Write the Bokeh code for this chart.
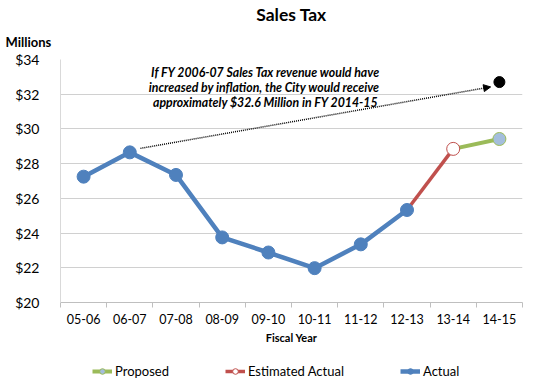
from bokeh.plotting import figure
from bokeh.layouts import column
from bokeh.models import (Range1d, FixedTicker, Label, Arrow, NormalHead,
                          Legend, LegendItem, Title)
from bokeh.embed import file_html
from bokeh.resources import INLINE

# ---- data ----
years = ["05-06", "06-07", "07-08", "08-09", "09-10",
         "10-11", "11-12", "12-13", "13-14", "14-15"]
actual_years = years[:8]
actual = [27.25, 28.65, 27.35, 23.75, 22.88, 21.98, 23.35, 25.33]
est_years = ["12-13", "13-14"]
estimated = [25.33, 28.85]
prop_years = ["13-14", "14-15"]
proposed = [28.85, 29.42]
infl_year = ["14-15"]
inflation = [32.7]
yticks = [20, 22, 24, 26, 28, 30, 32, 34]
note_lines = ["If FY 2006-07 Sales Tax revenue would have",
              "increased by inflation,  the City would receive",
              "approximately $32.6 Million in FY 2014-15"]
series_names = ["Proposed", "Estimated Actual", "Actual"]

FONT = "Lato"
BLUE, RED, GREEN = "#4F81BD", "#C0504D", "#9BBB59"

def pos(labels):
    return [years.index(l) + 0.5 for l in labels]

p = figure(width=536, height=352, output_backend="svg", toolbar_location=None,
           title=None,
           x_range=Range1d(0, len(years)), y_range=Range1d(20, 34),
           min_border_left=60, min_border_right=14, min_border_top=59,
           min_border_bottom=50)
p.outline_line_color = None

# titles (first added sits closest to the frame)
p.add_layout(Title(text="Millions", align="left", offset=-55, standoff=19,
                   text_font=FONT, text_font_style="bold",
                   text_font_size="13px", text_color="black"), "above")
p.add_layout(Title(text="Sales Tax", align="center", offset=-25, standoff=-4,
                   text_font=FONT, text_font_style="bold",
                   text_font_size="17.5px", text_color="black"), "above")

# axes
p.xaxis.ticker = FixedTicker(ticks=[i + 0.5 for i in range(len(years))],
                             minor_ticks=list(range(len(years) + 1)))
p.xaxis.major_label_overrides = {i + 0.5: y for i, y in enumerate(years)}
p.xaxis.major_tick_line_color = None
p.xaxis.minor_tick_line_color = "#bfbfbf"
p.xaxis.minor_tick_out = 5
p.xaxis.minor_tick_in = 0
p.xaxis.axis_line_color = "#bfbfbf"
p.xaxis.major_label_text_font = FONT
p.xaxis.major_label_text_font_size = "12.5px"
p.xaxis.major_label_text_color = "black"
p.xaxis.major_label_standoff = 5
p.xaxis.axis_label = "Fiscal Year"
p.xaxis.axis_label_text_font = FONT
p.xaxis.axis_label_text_font_style = "bold"
p.xaxis.axis_label_text_font_size = "11px"
p.xaxis.axis_label_text_color = "black"
p.xaxis.axis_label_standoff = 4

p.yaxis.ticker = FixedTicker(ticks=yticks)
p.yaxis.major_label_overrides = {t: "$%d" % t for t in yticks}
p.yaxis.major_tick_line_color = None
p.yaxis.minor_tick_line_color = None
p.yaxis.axis_line_color = "#d9d9d9"
p.yaxis.major_label_text_font = FONT
p.yaxis.major_label_text_font_size = "14px"
p.yaxis.major_label_text_color = "black"
p.yaxis.major_label_standoff = 15

p.xgrid.grid_line_color = None
p.ygrid.ticker = FixedTicker(ticks=yticks[1:])
p.ygrid.grid_line_color = "#d0d0d0"

# series
p.line(pos(prop_years), proposed, line_color=GREEN, line_width=4)
p.scatter(pos(prop_years)[1:], proposed[1:], size=13, fill_color="#A4BEDC",
          line_color=GREEN, line_width=1)
p.line(pos(est_years), estimated, line_color=RED, line_width=3.5)
p.scatter(pos(est_years)[1:], estimated[1:], size=13, fill_color="white",
          line_color=RED, line_width=1)
p.line(pos(actual_years), actual, line_color=BLUE, line_width=4.5)
p.scatter(pos(actual_years), actual, size=13, fill_color=BLUE, line_color=BLUE)

# inflation point and arrow
p.scatter(pos(infl_year), inflation, size=11, fill_color="black", line_color="black")
p.add_layout(Arrow(end=NormalHead(size=7, fill_color="black", line_color="black",
                                  line_width=1),
                   x_start=years.index("06-07") + 0.73, y_start=28.88,
                   x_end=years.index("14-15") + 0.31, y_end=32.42,
                   line_color="black", line_width=1.5, line_dash="1 1"))

# annotation text
for line_txt, yy in zip(note_lines, [33.25, 32.37, 31.5]):
    p.add_layout(Label(x=4.44, y=yy, text=line_txt, text_align="center",
                       text_baseline="middle", text_font=FONT,
                       text_font_style="bold italic", text_font_size="12.3px",
                       text_color="black"))

# ---- legend strip ----
lf = figure(width=536, height=28, output_backend="svg", toolbar_location=None,
            x_range=Range1d(0, 1), y_range=Range1d(0, 1),
            min_border=0, x_axis_type=None, y_axis_type=None)
lf.outline_line_color = None
lf.grid.visible = False
styles = [(GREEN, dict(fill_color="#A4BEDC", line_color=GREEN), 4),
          (RED, dict(fill_color="white", line_color=RED), 3.5),
          (BLUE, dict(fill_color=BLUE, line_color=BLUE), 4.5)]
items = []
for name, (lc, mk, lw) in zip(series_names, styles):
    r1 = lf.line([-5, -4], [-5, -4], line_color=lc, line_width=lw)
    r2 = lf.scatter([-5], [-5], size=9, line_width=1, **mk)
    items.append(LegendItem(label=name, renderers=[r1, r2]))
legend = Legend(items=items, orientation="horizontal", location=(32, 1),
                spacing=56, padding=0, margin=0, glyph_width=20,
                glyph_height=14, label_standoff=3, label_height=14,
                label_text_font=FONT, label_text_font_size="13px",
                label_text_color="black", border_line_color=None,
                background_fill_alpha=0)
lf.add_layout(legend, "center")

open("out.html", "w").write(file_html(column(p, lf, spacing=0), INLINE))
